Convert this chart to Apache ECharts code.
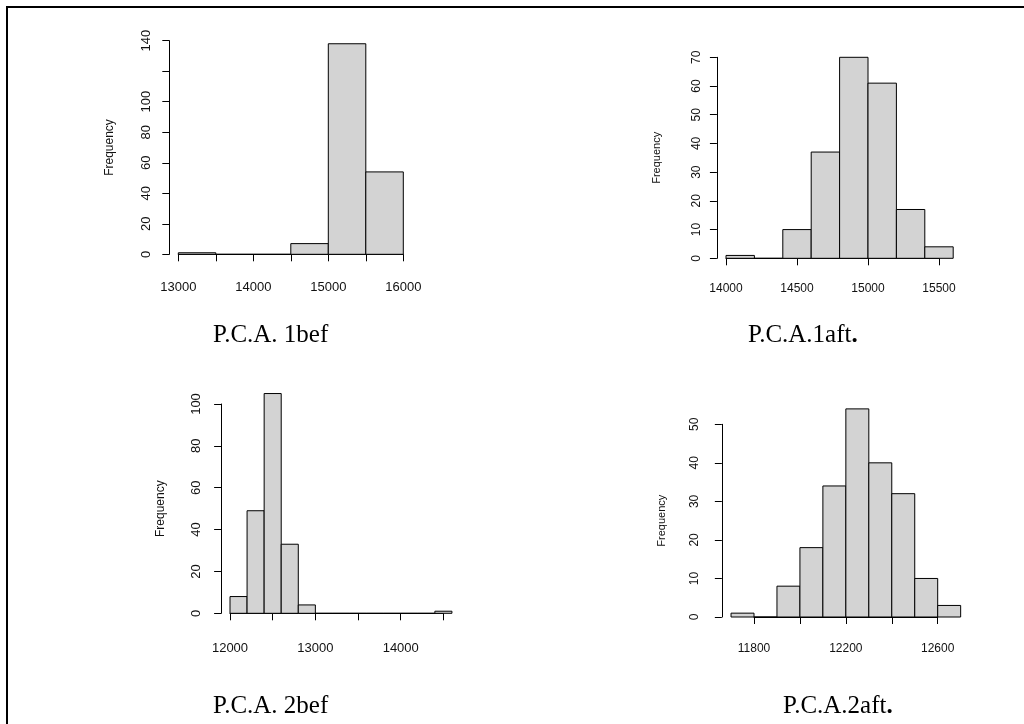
<!DOCTYPE html>
<html>
<head>
<meta charset="utf-8">
<script src="https://cdn.jsdelivr.net/npm/echarts@6/dist/echarts.min.js"></script>
<style>
  html, body { margin: 0; padding: 0; background: #fff; }
  #chart { width: 1024px; height: 724px; }
</style>
</head>
<body>
<div id="chart"></div>
<script>
// Histogram bin edges and counts for each component
const pca1befBreaks = [13000, 13500, 14000, 14500, 15000, 15500, 16000];
const pca1befCounts = [1, 0, 0, 7, 138, 54];

const pca1aftBreaks = [14000, 14200, 14400, 14600, 14800, 15000, 15200, 15400, 15600];
const pca1aftCounts = [1, 0, 10, 37, 70, 61, 17, 4];

const pca2befBreaks = [12000, 12200, 12400, 12600, 12800, 13000, 13200, 13400, 13600, 13800, 14000, 14200, 14400, 14600];
const pca2befCounts = [8, 49, 105, 33, 4, 0, 0, 0, 0, 0, 0, 0, 1];

const pca2aftBreaks = [11700, 11800, 11900, 12000, 12100, 12200, 12300, 12400, 12500, 12600, 12700];
const pca2aftCounts = [1, 0, 8, 18, 34, 54, 40, 32, 10, 3];

// Axis ticks [first, last, step] and the tick labels that are printed
const pca1befXTicks = [13000, 16000, 500];
const pca1befXLabels = [13000, 14000, 15000, 16000];
const pca1befYTicks = [0, 140, 20];
const pca1befYLabels = [0, 20, 40, 60, 80, 100, 140];

const pca1aftXTicks = [14000, 15500, 500];
const pca1aftXLabels = [14000, 14500, 15000, 15500];
const pca1aftYTicks = [0, 70, 10];
const pca1aftYLabels = [0, 10, 20, 30, 40, 50, 60, 70];

const pca2befXTicks = [12000, 14500, 500];
const pca2befXLabels = [12000, 13000, 14000];
const pca2befYTicks = [0, 100, 20];
const pca2befYLabels = [0, 20, 40, 60, 80, 100];

const pca2aftXTicks = [11800, 12600, 200];
const pca2aftXLabels = [11800, 12200, 12600];
const pca2aftYTicks = [0, 50, 10];
const pca2aftYLabels = [0, 10, 20, 30, 40, 50];

// Caption under each panel: [main text, trailing mark]
const panelTitles = [['P.C.A. 1bef', ''], ['P.C.A.1aft', '.'], ['P.C.A. 2bef', ''], ['P.C.A.2aft', '.']];

// Panel layout: grid box spans the tick range of each axis
const panels = [
  { breaks: pca1befBreaks, counts: pca1befCounts, xt: pca1befXTicks, xl: pca1befXLabels, yt: pca1befYTicks, yl: pca1befYLabels,
    box: { left: 178.3, top: 40.7, width: 225, height: 213.6 }, font: 13, xMargin: 18, yMargin: 16 },
  { breaks: pca1aftBreaks, counts: pca1aftCounts, xt: pca1aftXTicks, xl: pca1aftXLabels, yt: pca1aftYTicks, yl: pca1aftYLabels,
    box: { left: 726, top: 57.3, width: 213, height: 201 }, font: 12, xMargin: 16, yMargin: 14 },
  { breaks: pca2befBreaks, counts: pca2befCounts, xt: pca2befXTicks, xl: pca2befXLabels, yt: pca2befYTicks, yl: pca2befYLabels,
    box: { left: 230, top: 404, width: 213.4, height: 209.3 }, font: 13, xMargin: 20, yMargin: 18 },
  { breaks: pca2aftBreaks, counts: pca2aftCounts, xt: pca2aftXTicks, xl: pca2aftXLabels, yt: pca2aftYTicks, yl: pca2aftYLabels,
    box: { left: 754, top: 424.3, width: 183.7, height: 192.7 }, font: 12, xMargin: 17, yMargin: 21 }
];

const titlePos = [
  { left: 208, top: 318 }, { left: 743, top: 318 },
  { left: 208, top: 689 }, { left: 778, top: 689 }
];

const grid = [], xAxis = [], yAxis = [], series = [], title = [];

panels.forEach((p, i) => {
  const [x0, x1, xStep] = p.xt;
  const [y0, y1, yStep] = p.yt;
  const pxPerX = p.box.width / (x1 - x0);
  const pxPerY = p.box.height / (y1 - y0);
  // plot region is padded by 4% of the data range on each side
  const dMin = p.breaks[0], dMax = p.breaks[p.breaks.length - 1];
  const yAxisOffset = (x0 - (dMin - 0.04 * (dMax - dMin))) * pxPerX;
  const xAxisOffset = 0.04 * Math.max(...p.counts) * pxPerY;

  grid.push(Object.assign({ containLabel: false }, p.box));

  xAxis.push({
    type: 'value', gridIndex: i, min: x0, max: x1, interval: xStep,
    position: 'bottom', offset: xAxisOffset,
    axisLine: { show: true, lineStyle: { color: '#000', width: 1 } },
    axisTick: { show: true, length: 7, lineStyle: { color: '#000', width: 1 } },
    axisLabel: {
      show: true, margin: p.xMargin, fontSize: p.font, color: '#111', fontFamily: 'Liberation Sans',
      showMinLabel: true, showMaxLabel: true,
      formatter: v => (p.xl.indexOf(v) >= 0 ? String(v) : '')
    },
    splitLine: { show: false }
  });

  yAxis.push({
    type: 'value', gridIndex: i, min: y0, max: y1, interval: yStep,
    position: 'left', offset: yAxisOffset,
    name: 'Frequency', nameLocation: 'middle', nameGap: 54,
    nameTextStyle: { fontSize: p.font - 1, color: '#111', fontFamily: 'Liberation Sans' },
    axisLine: { show: true, lineStyle: { color: '#000', width: 1 } },
    axisTick: { show: true, length: 7, lineStyle: { color: '#000', width: 1 } },
    axisLabel: {
      show: true, rotate: 90, margin: p.yMargin, fontSize: p.font, color: '#111', fontFamily: 'Liberation Sans',
      showMinLabel: true, showMaxLabel: true,
      formatter: v => (p.yl.indexOf(v) >= 0 ? String(v) : '')
    },
    splitLine: { show: false }
  });

  const bins = p.counts.map((c, k) => [p.breaks[k], p.breaks[k + 1], c]);
  series.push({
    type: 'custom', xAxisIndex: i, yAxisIndex: i, clip: false,
    data: bins,
    renderItem: (params, api) => {
      const a = api.coord([api.value(0), 0]);
      const b = api.coord([api.value(1), api.value(2)]);
      return {
        type: 'rect',
        shape: { x: a[0], y: b[1], width: b[0] - a[0], height: a[1] - b[1] },
        style: { fill: '#d3d3d3', stroke: '#000', lineWidth: 1 }
      };
    },
    silent: true
  });

  const [mainText, mark] = panelTitles[i];
  title.push({
    text: '{m|' + mainText + '}' + (mark ? '{d|' + mark + '}' : ''),
    left: titlePos[i].left, top: titlePos[i].top,
    textStyle: {
      rich: {
        m: { fontFamily: 'Liberation Serif', fontSize: 25, fontWeight: 'normal', color: '#000' },
        d: { fontFamily: 'Liberation Serif', fontSize: 25, fontWeight: 'bold', color: '#000' }
      }
    }
  });
});

const chart = echarts.init(document.getElementById('chart'), null, { renderer: 'canvas' });
chart.setOption({
  animation: false,
  backgroundColor: '#fff',
  title, grid, xAxis, yAxis, series,
  graphic: [{
    type: 'polyline',
    shape: { points: [[7, 724], [7, 7], [1024, 7]] },
    style: { stroke: '#000', lineWidth: 2, fill: null }
  }]
});
</script>
</body>
</html>
